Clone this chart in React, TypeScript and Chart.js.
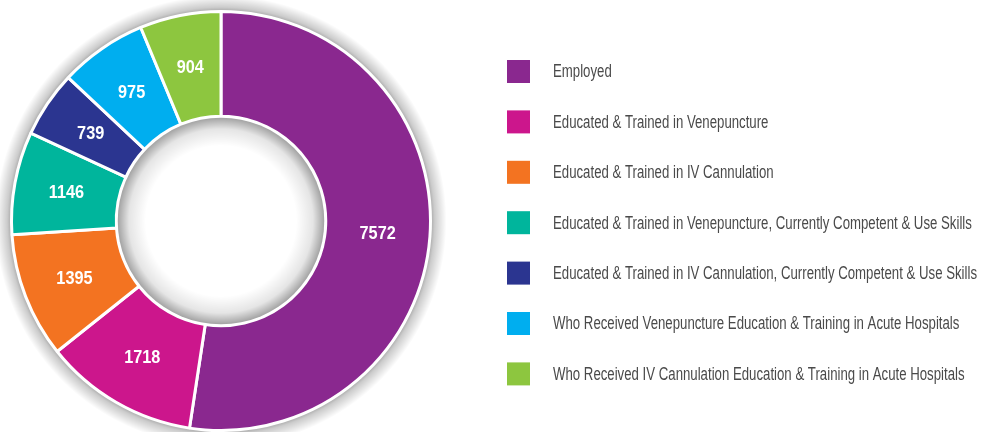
import React, { useEffect, useRef } from "react";
import { Chart, registerables } from "chart.js";

Chart.register(...registerables);

const categories = [
  "Employed",
  "Educated & Trained in Venepuncture",
  "Educated & Trained in IV Cannulation",
  "Educated & Trained in Venepuncture, Currently Competent & Use Skills",
  "Educated & Trained in IV Cannulation, Currently Competent & Use Skills",
  "Who Received Venepuncture Education & Training in Acute Hospitals",
  "Who Received IV Cannulation Education & Training in Acute Hospitals",
];
const values = [7572, 1718, 1395, 1146, 739, 975, 904];
const colors = ["#8a288f", "#cc168c", "#f37321", "#00b59c", "#2b3590", "#00aeef", "#8dc63f"];

const FONT = "'Liberation Sans', Arial, sans-serif";

const shadowPlugin = {
  id: "ringShadow",
  beforeDatasetsDraw(chart: any) {
    const meta = chart.getDatasetMeta(0);
    const arc = meta.data[0];
    if (!arc) return;
    const { x, y, outerRadius } = arc.getProps(["x", "y", "outerRadius"], true);
    const ctx = chart.ctx;
    const r0 = outerRadius - 2;
    const r1 = outerRadius + 16;
    const g = ctx.createRadialGradient(x, y, r0, x, y, r1);
    g.addColorStop(0, "rgba(0,0,0,0.42)");
    g.addColorStop(0.35, "rgba(0,0,0,0.2)");
    g.addColorStop(1, "rgba(0,0,0,0)");
    ctx.save();
    ctx.fillStyle = g;
    ctx.beginPath();
    ctx.arc(x, y, r1, 0, Math.PI * 2);
    ctx.arc(x, y, r0, 0, Math.PI * 2, true);
    ctx.fill();
    ctx.restore();
  },
  afterDatasetsDraw(chart: any) {
    const meta = chart.getDatasetMeta(0);
    const arc = meta.data[0];
    if (!arc) return;
    const { x, y, innerRadius } = arc.getProps(["x", "y", "innerRadius"], true);
    const ctx = chart.ctx;
    const r1 = innerRadius - 1.5;
    const r0 = r1 - 28;
    const g = ctx.createRadialGradient(x, y, r0, x, y, r1);
    g.addColorStop(0, "rgba(0,0,0,0)");
    g.addColorStop(0.6, "rgba(0,0,0,0.1)");
    g.addColorStop(1, "rgba(0,0,0,0.36)");
    ctx.save();
    ctx.fillStyle = g;
    ctx.beginPath();
    ctx.arc(x, y, r1, 0, Math.PI * 2);
    ctx.fill();
    ctx.restore();
  },
};

const labelPlugin = {
  id: "sliceLabels",
  afterDatasetsDraw(chart: any) {
    const ctx = chart.ctx;
    const meta = chart.getDatasetMeta(0);
    const data = chart.data.datasets[0].data as number[];
    ctx.save();
    ctx.fillStyle = "#ffffff";
    ctx.font = `bold 18.5px ${FONT}`;
    ctx.textAlign = "center";
    ctx.textBaseline = "middle";
    meta.data.forEach((el: any, i: number) => {
      const p = el.tooltipPosition();
      ctx.save();
      ctx.translate(p.x, p.y + 1);
      ctx.scale(0.88, 1);
      ctx.fillText(String(data[i]), 0, 0);
      ctx.restore();
    });
    ctx.restore();
  },
};

const legendPlugin = {
  id: "sideLegend",
  afterDraw(chart: any) {
    const ctx = chart.ctx;
    const labels = chart.data.labels as string[];
    const bg = chart.data.datasets[0].backgroundColor as string[];
    const boxX = 507;
    const box = 23;
    const textX = 553;
    const firstY = 71.5;
    const step = 50.4;
    ctx.save();
    ctx.font = `17.5px ${FONT}`;
    ctx.textBaseline = "middle";
    ctx.textAlign = "left";
    const longest = Math.max(...labels.map((l) => ctx.measureText(l).width));
    const sx = Math.min(1, 424 / longest);
    labels.forEach((lab, i) => {
      const cy = firstY + i * step;
      ctx.fillStyle = bg[i];
      ctx.fillRect(boxX, cy - box / 2, box, box);
      ctx.save();
      ctx.translate(textX, cy + 1);
      ctx.scale(sx, 1);
      ctx.fillStyle = "#4a4a4a";
      ctx.fillText(lab, 0, 0);
      ctx.restore();
    });
    ctx.restore();
  },
};

export default function App() {
  const ref = useRef<HTMLCanvasElement | null>(null);
  useEffect(() => {
    if (!ref.current) return;
    const chart = new Chart(ref.current, {
      type: "doughnut",
      data: {
        labels: categories,
        datasets: [
          {
            data: values,
            backgroundColor: colors,
            borderColor: "#ffffff",
            borderWidth: 3,
            hoverOffset: 0,
          },
        ],
      },
      options: {
        animation: false,
        responsive: true,
        maintainAspectRatio: false,
        cutout: "50%",
        layout: { padding: { left: 10, top: 10, bottom: 0, right: 549 } },
        plugins: {
          legend: { display: false },
          tooltip: { enabled: false },
        },
      },
      plugins: [shadowPlugin, labelPlugin, legendPlugin],
    });
    return () => chart.destroy();
  }, []);
  return (
    <div style={{ position: "fixed", left: 0, top: 0, width: 981, height: 432, background: "#ffffff" }}>
      <canvas ref={ref} />
    </div>
  );
}
